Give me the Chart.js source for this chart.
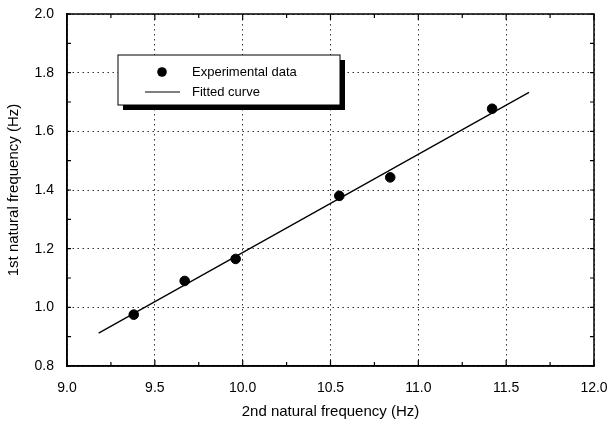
<!DOCTYPE html>
<html>
<head>
<meta charset="utf-8">
<script src="https://cdn.jsdelivr.net/npm/chart.js@4.4.1/dist/chart.umd.min.js"></script>
<style>
  html, body { margin: 0; padding: 0; background: #fff; }
  #wrap { width: 608px; height: 425px; }
</style>
</head>
<body>
<div id="wrap"><canvas id="freqChart"></canvas></div>
<script>
// measured points (2nd vs 1st natural frequency)
const expX = [9.38, 9.67, 9.96, 10.55, 10.84, 11.42];
const expY = [0.975, 1.09, 1.165, 1.38, 1.443, 1.677];
// fitted straight line, end points
const fitX = [9.18, 11.63];
const fitY = [0.912, 1.733];
// tick values
const xTicks = [9.0, 9.5, 10.0, 10.5, 11.0, 11.5, 12.0];
const yTicks = [0.8, 1.0, 1.2, 1.4, 1.6, 1.8, 2.0];

const FONT = 'Liberation Sans, Arial, Helvetica, sans-serif';

const frameTicks = {
  id: 'frameTicks',
  afterDatasetsDraw(chart) {
    const { ctx, chartArea: a, scales: { x, y } } = chart;
    ctx.save();
    ctx.strokeStyle = '#000';
    ctx.lineWidth = 1.5;
    ctx.strokeRect(a.left, a.top, a.right - a.left, a.bottom - a.top);
    ctx.lineWidth = 1.2;
    ctx.beginPath();
    for (let v = 9.0; v <= 12.0001; v += 0.25) {
      const px = x.getPixelForValue(v);
      const len = Math.abs((v * 2) % 1) < 0.01 ? 6 : 4;
      ctx.moveTo(px, a.bottom); ctx.lineTo(px, a.bottom - len);
      ctx.moveTo(px, a.top); ctx.lineTo(px, a.top + len);
    }
    for (let v = 0.8; v <= 2.0001; v += 0.1) {
      const py = y.getPixelForValue(v);
      const len = 4;
      ctx.moveTo(a.left, py); ctx.lineTo(a.left + len, py);
      ctx.moveTo(a.right, py); ctx.lineTo(a.right - len, py);
    }
    ctx.stroke();
    ctx.restore();
  },
  afterDraw(chart) {
    const { ctx, chartArea: a } = chart;
    const ds = chart.data.datasets;
    const bx = a.left + 51, by = a.top + 41, bw = 222, bh = 50;
    ctx.save();
    ctx.fillStyle = '#000';
    ctx.fillRect(bx + 5, by + 5, bw, bh);
    ctx.fillStyle = '#fff';
    ctx.fillRect(bx, by, bw, bh);
    ctx.strokeStyle = '#000';
    ctx.lineWidth = 1;
    ctx.strokeRect(bx, by, bw, bh);
    ctx.fillStyle = '#000';
    // entry 1 : dot
    ctx.beginPath();
    ctx.arc(bx + 44, by + 17, 4.8, 0, Math.PI * 2);
    ctx.fill();
    // entry 2 : line
    ctx.beginPath();
    ctx.moveTo(bx + 27, by + 37); ctx.lineTo(bx + 62, by + 37);
    ctx.lineWidth = 1.2;
    ctx.stroke();
    ctx.font = '13px ' + FONT;
    ctx.textBaseline = 'middle';
    ctx.fillText(ds[0].label, bx + 74, by + 17);
    ctx.fillText(ds[1].label, bx + 74, by + 37);
    ctx.restore();
  }
};

new Chart(document.getElementById('freqChart'), {
  type: 'scatter',
  data: {
    datasets: [{
      label: 'Experimental data',
      data: expX.map((v, i) => ({ x: v, y: expY[i] })),
      backgroundColor: '#000',
      borderColor: '#000',
      pointRadius: 4.8,
      pointHoverRadius: 4.8,
      order: 0
    }, {
      type: 'line',
      label: 'Fitted curve',
      data: fitX.map((v, i) => ({ x: v, y: fitY[i] })),
      borderColor: '#000',
      borderWidth: 1.3,
      pointRadius: 0,
      fill: false,
      order: 1
    }]
  },
  options: {
    responsive: true, maintainAspectRatio: false, animation: false,
    layout: { padding: { left: 0, right: 14, top: 14, bottom: 0 } },
    plugins: { legend: { display: false }, tooltip: { enabled: false } },
    scales: {
      x: {
        type: 'linear', min: 9.0, max: 12.0,
        afterBuildTicks: s => { s.ticks = xTicks.map(v => ({ value: v })); },
        afterFit: s => { s.height = 59; s.paddingLeft = 0; s.paddingRight = 0; },
        ticks: { color: '#000', padding: 14, maxRotation: 0, font: { family: FONT, size: 14 }, callback: v => v.toFixed(1) },
        grid: { color: '#333', lineWidth: 1, drawTicks: false },
        border: { color: '#000', width: 1.5, dash: [1.5, 3.5] },
        title: { display: true, text: '2nd natural frequency (Hz)', color: '#000',
                 font: { family: FONT, size: 15 }, padding: { top: 0, bottom: 4 } }
      },
      y: {
        type: 'linear', min: 0.8, max: 2.0,
        afterBuildTicks: s => { s.ticks = yTicks.map(v => ({ value: v })); },
        afterFit: s => { s.width = 67; s.paddingTop = 0; s.paddingBottom = 0; },
        ticks: { color: '#000', padding: 13, font: { family: FONT, size: 14 }, callback: v => v.toFixed(1) },
        grid: { color: '#333', lineWidth: 1, drawTicks: false },
        border: { color: '#000', width: 1.5, dash: [1.5, 3.5] },
        title: { display: true, text: '1st natural frequency (Hz)', color: '#000',
                 font: { family: FONT, size: 15 }, padding: { top: 5, bottom: 0 } }
      }
    }
  },
  plugins: [frameTicks]
});
</script>
</body>
</html>
